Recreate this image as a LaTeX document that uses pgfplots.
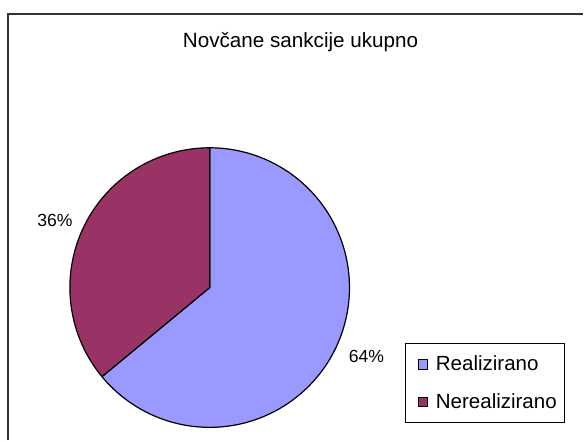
\documentclass[border=0pt]{standalone}
\usepackage{pgfplots}
\usepackage{pgfplotstable}
\pgfplotsset{compat=1.18}
\usepackage{fontspec}
\setmainfont{Liberation Sans}

\definecolor{realiz}{HTML}{9999FF}
\definecolor{nereal}{HTML}{993366}
\definecolor{framegray}{HTML}{333333}

% shares in percent
\pgfplotstableread{
label value
Realizirano 64
Nerealizirano 36
}\piedata

\begin{document}
\begin{tikzpicture}
\pgfplotstablegetelem{0}{value}\of\piedata \let\va\pgfplotsretval
\pgfplotstablegetelem{1}{value}\of\piedata \let\vb\pgfplotsretval
% slices start at 12 o'clock and run clockwise
\pgfmathsetmacro\angA{90-3.6*\va}
\pgfmathsetmacro\angB{\angA-3.6*\vb}
\begin{axis}[
    scale only axis,
    width=438pt, height=330.75pt,
    xmin=0, xmax=584, ymin=0, ymax=441,
    y dir=reverse,
    hide axis,
    clip=false,
    legend cell align=left,
    legend image code/.code={
        \path (0pt,0pt);
        \draw[#1, line width=0.6pt] (5pt,-3.4pt) rectangle (11.8pt,3.4pt);
    },
    legend style={
        at={(axis cs:406,344)}, anchor=north west,
        draw=black, line width=0.75pt,
        inner xsep=4pt, inner ysep=7pt,
        row sep=11.6pt, column sep=4pt,
        font=\fontsize{15.4pt}{18pt}\selectfont,
    },
]
\path (axis cs:0,0) rectangle (axis cs:584,441);
\draw[framegray, line width=1.3pt] (axis cs:8,441) -- (axis cs:8,14) -- (axis cs:584,14);

\addplot[fill=realiz, draw=black, line width=0.9pt, line join=round,
    domain=\angA:90, samples=160, variable=\t]
    ({210+140*cos(\t)}, {288-140*sin(\t)}) -- (axis cs:210,288) -- cycle;
\addlegendentry{Realizirano}
\addplot[fill=nereal, draw=black, line width=0.9pt, line join=round,
    domain=\angB:\angA, samples=100, variable=\t]
    ({210+140*cos(\t)}, {288-140*sin(\t)}) -- (axis cs:210,288) -- cycle;
\addlegendentry{Nerealizirano}

\node[anchor=base, font=\fontsize{15.5pt}{18pt}\selectfont] at (axis cs:301,47.5) {Novčane sankcije ukupno};
\node[anchor=base, font=\fontsize{13.2pt}{16pt}\selectfont] at (axis cs:55,227) {36\%};
\node[anchor=base, font=\fontsize{13.2pt}{16pt}\selectfont] at (axis cs:367,363) {64\%};
\end{axis}
\end{tikzpicture}
\end{document}
